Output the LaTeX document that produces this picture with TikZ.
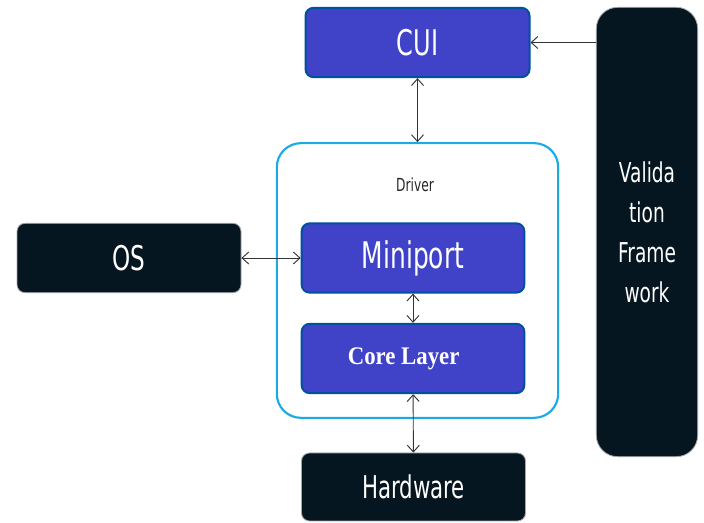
\documentclass[tikz,border=0pt]{standalone}
\usepackage{fontspec}
\usepackage{xcolor}
\usepackage{tikz}
\usetikzlibrary{positioning,arrows.meta}

\newfontfamily\boxfont[FakeStretch=0.68]{DejaVu Sans}
\newfontfamily\layerfont[FakeStretch=0.9]{Liberation Serif}

\definecolor{blkfill}{RGB}{6,22,32}
\definecolor{bluefill}{RGB}{64,67,200}
\definecolor{blueedge}{RGB}{0,80,160}
\definecolor{drvedge}{RGB}{26,170,230}

\begin{document}
\begin{tikzpicture}[x=0.75pt,y=0.75pt,yscale=-1,xscale=1,
  bluebox/.style={draw=blueedge,line width=1.5pt,fill=bluefill,rounded corners=6pt,text=white,inner sep=0pt},
  blackbox/.style={draw=gray!70,line width=0.6pt,fill=blkfill,rounded corners=6pt,text=white,inner sep=0pt},
  link/.style={{Straight Barb[length=5pt,width=9pt]}-{Straight Barb[length=5pt,width=9pt]},line width=0.7pt,color=black!80}]
%set diagram size
\useasboundingbox (0,0) rectangle (704,523);

%Rounded Rect Driver
\node [draw=drvedge,line width=1.6pt,rounded corners=18pt,minimum width=211pt,minimum height=206pt] (driver) at (417.5,280.5) {};
% Text Node
\node [inner sep=0.75pt,font=\boxfont\fontsize{13.5}{16}\selectfont,text=black!85] (drvlbl) at (415,185) {Driver};

%Rounded Rect CUI
\node [bluebox,minimum width=168pt,minimum height=52pt,font=\boxfont\fontsize{26.5}{30}\selectfont] (cui) at (417.5,42.5) {CUI};
%Rounded Rect Miniport
\node [bluebox,minimum width=167pt,minimum height=52pt,font=\boxfont\fontsize{27.5}{30}\selectfont] (mini) at (413,258) {Miniport};
%Rounded Rect Core Layer
\node [bluebox,minimum width=167pt,minimum height=52pt,font=\layerfont\bfseries\fontsize{19}{22}\selectfont] (core) at (413,358.5) {Core Layer\hspace*{14pt}};

%Rounded Rect OS
\node [blackbox,minimum width=168pt,minimum height=52pt,font=\boxfont\fontsize{25.5}{30}\selectfont] (os) at (129,258) {OS};
%Rounded Rect Hardware
\node [blackbox,minimum width=168pt,minimum height=51pt,font=\boxfont\fontsize{23.5}{28}\selectfont] (hw) at (413.5,487) {Hardware};
%Rounded Rect Validation Framework
\node [blackbox,rounded corners=16pt,minimum width=76pt,minimum height=337pt,align=center,font=\boxfont\fontsize{20.5}{30}\selectfont] (valfw) at (647,232) {Valida\\tion\\Frame\\work};

%Straight Lines
\draw [link] (cui) -- (driver);
\draw [link] (mini) -- (core);
\draw [link] (core) -- (hw);
\draw [link] (os) -- (mini);
\draw [link,{Straight Barb[length=5pt,width=9pt]}-] (cui.east) -- (valfw.west |- cui.east);
\end{tikzpicture}
\end{document}
